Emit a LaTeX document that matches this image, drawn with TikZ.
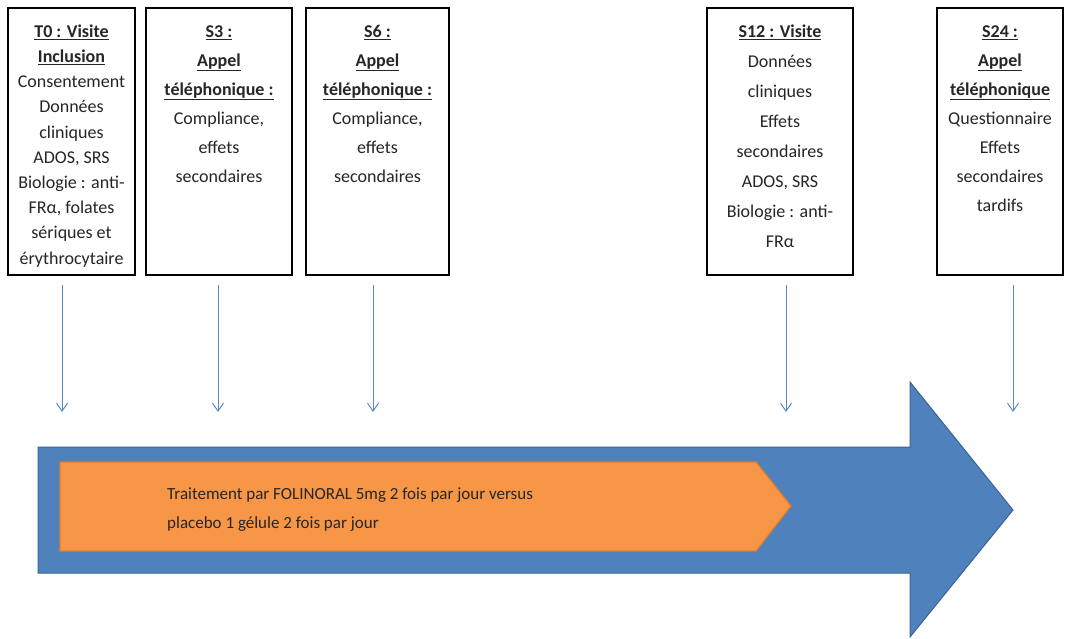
\documentclass[tikz,border=0pt]{standalone}
\usepackage{fontspec}
\setmainfont{Carlito}
\usetikzlibrary{arrows.meta}
\definecolor{bluefill}{HTML}{4F81BD}
\definecolor{blueedge}{HTML}{3A6297}
\definecolor{orfill}{HTML}{F79646}
\definecolor{oredge}{HTML}{E47A2C}
\definecolor{arrowblue}{HTML}{5B87C6}
\definecolor{txt}{HTML}{262626}
\newcommand\hdr[1]{\underline{\textbf{#1}}}
\newcommand\firststrut{\rule{0pt}{14pt}}
\begin{document}
\begin{tikzpicture}[x=1pt,y=-1pt,
  visitbox/.style={draw=black, line width=1.3pt, fill=white, rectangle, inner sep=0pt},
  boxtext/.style={anchor=north, align=center, inner sep=0pt, text=txt},
  tightlines/.style={font=\fontsize{18}{25.2}\selectfont},
  looselines/.style={font=\fontsize{18}{29.1}\selectfont},
  widelines/.style={font=\fontsize{18}{30}\selectfont},
  tick/.style={draw=arrowblue, line width=1pt, -{Straight Barb[length=8pt,width=11pt]}},
  bigarrow/.style={fill=bluefill, draw=blueedge, line width=1pt},
  orarrow/.style={fill=orfill, draw=oredge, line width=1.2pt},
]
\useasboundingbox (0,0) rectangle (1070,639);

% big blue arrow
\path[bigarrow] (38,447) -- (910,447) -- (910,382) -- (1013,510) -- (910,637) -- (910,573) -- (38,573) -- cycle;
% orange arrow
\path[orarrow] (60,462) -- (756,462) -- (791,506) -- (756,551) -- (60,551) -- cycle;
\node[anchor=north west, align=left, inner sep=0pt, text=txt, font=\fontsize{17}{29}\selectfont] (trt) at (167,486)
  {\rule{0pt}{13pt}Traitement par FOLINORAL 5mg 2 fois par jour versus\\placebo 1 gélule 2 fois par jour};

% boxes
\node[visitbox, minimum width=127pt, minimum height=267pt] (b0) at (71.5,141.5) {};
\node[visitbox, minimum width=146pt, minimum height=267pt] (b3) at (219,141.5) {};
\node[visitbox, minimum width=143pt, minimum height=267pt] (b6) at (377.5,141.5) {};
\node[visitbox, minimum width=146pt, minimum height=267pt] (b12) at (780,141.5) {};
\node[visitbox, minimum width=126pt, minimum height=267pt] (b24) at (1000,141.5) {};

\node[boxtext, tightlines] (t0) at (71.5,23) {\firststrut\hdr{T0 : Visite}\\ \hdr{Inclusion}\\ Consentement\\ Données\\ cliniques\\ ADOS, SRS\\ Biologie : anti-\\ FRα, folates\\ sériques et\\ érythrocytaire};
\node[boxtext, looselines] (t3) at (219,23) {\firststrut\hdr{S3 :}\\ \hdr{Appel}\\ \hdr{téléphonique :}\\ Compliance,\\ effets\\ secondaires};
\node[boxtext, looselines] (t6) at (377.5,23) {\firststrut\hdr{S6 :}\\ \hdr{Appel}\\ \hdr{téléphonique :}\\ Compliance,\\ effets\\ secondaires};
\node[boxtext, widelines] (t12) at (780,23) {\firststrut\hdr{S12 : Visite}\\ Données\\ cliniques\\ Effets\\ secondaires\\ ADOS, SRS\\ Biologie : anti-\\ FRα};
\node[boxtext, looselines] (t24) at (1000,23) {\firststrut\hdr{S24 :}\\ \hdr{Appel}\\ \hdr{téléphonique}\\ Questionnaire\\ Effets\\ secondaires\\ tardifs};

% timeline arrows
\coordinate (s0) at (62,285);   \coordinate (e0) at (62,412);
\coordinate (s3) at (218,285);  \coordinate (e3) at (218,412);
\coordinate (s6) at (373,285);  \coordinate (e6) at (373,412);
\coordinate (s12) at (786,285); \coordinate (e12) at (786,412);
\coordinate (s24) at (1013,285);\coordinate (e24) at (1013,412);
\draw[tick] (s0) -- (e0);
\draw[tick] (s3) -- (e3);
\draw[tick] (s6) -- (e6);
\draw[tick] (s12) -- (e12);
\draw[tick] (s24) -- (e24);
\end{tikzpicture}
\end{document}
